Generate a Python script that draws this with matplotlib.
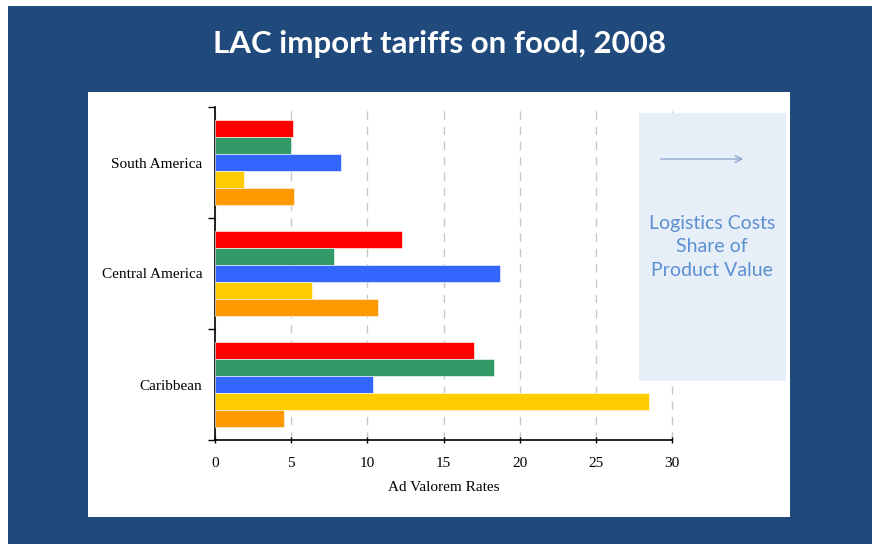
import numpy as np
import matplotlib
matplotlib.use('Agg')
import matplotlib.pyplot as plt
from matplotlib.patches import Rectangle, FancyArrowPatch

# Datos
regions = ['South America', 'Central America', 'Caribbean']
series_red = [5.1, 12.3, 17.0]
series_green = [5.0, 7.8, 18.3]
series_blue = [8.3, 18.7, 10.4]
series_yellow = [1.9, 6.4, 28.5]
series_orange = [5.2, 10.7, 4.5]
xticks = [0, 5, 10, 15, 20, 25, 30]

colors = ['#FF0000', '#339966', '#3366FF', '#FFCC00', '#FF9900']
series = [series_red, series_green, series_blue, series_yellow, series_orange]

W, H = 872, 544
fig = plt.figure(figsize=(W / 100, H / 100), dpi=100, facecolor='white')

# Fondo azul y panel blanco
fig.add_artist(Rectangle((8 / W, 0), 1 - 8 / W, 1 - 6 / H, transform=fig.transFigure,
                         facecolor='#214A7C', edgecolor='none', zorder=-3))
fig.add_artist(Rectangle((88 / W, 1 - 517 / H), (790 - 88) / W, (517 - 92) / H,
                         transform=fig.transFigure, facecolor='white', edgecolor='none', zorder=-2))

fig.text(440 / W, 1 - 44 / H, 'LAC import tariffs on food, 2008', color='white',
         fontsize=22.5, fontweight='bold', family='Lato', ha='center', va='center')

ax = fig.add_axes([215 / W, 1 - 440 / H, (672 - 215) / W, (440 - 107) / H])
ax.set_facecolor('none')

bar_h = 0.152
y = np.arange(len(regions))
for i, (vals, c) in enumerate(zip(series, colors)):
    offs = (i - 2) * bar_h
    ax.barh(y + offs, vals, height=bar_h, color=c, edgecolor='white', linewidth=0.4, zorder=3)

ax.set_ylim(2.5, -0.5)
ax.set_xlim(0, 30)
ax.set_xticks(xticks)
ax.set_xticklabels([str(t) for t in xticks], family='Liberation Serif', fontsize=11)
ax.set_yticks(y)
ax.set_yticklabels(regions, family='Liberation Serif', fontsize=11)
ax.tick_params(axis='y', length=0, pad=9)
ax.set_yticks([-0.5, 0.5, 1.5, 2.5], minor=True)
ax.tick_params(axis='y', which='minor', length=5, direction='out', width=1)
ax.tick_params(axis='x', length=4, direction='inout', width=1, pad=10)
ax.set_xlabel('Ad Valorem Rates', family='Liberation Serif', fontsize=11, labelpad=8)

for s in ['top', 'right']:
    ax.spines[s].set_visible(False)
ax.spines['left'].set_linewidth(1.2)
ax.spines['bottom'].set_linewidth(1.2)

ax.grid(axis='x', linestyle=(0, (6, 5)), color='#C8C8C8', linewidth=1, zorder=0)
ax.set_axisbelow(True)
for gl in ax.get_xgridlines():
    gl.set_clip_on(False)

# Recuadro de costes logísticos
fig.add_artist(Rectangle((639 / W, 1 - 381 / H), (786 - 639) / W, (381 - 113) / H,
                         transform=fig.transFigure, facecolor='#E6EEF7', edgecolor='none', zorder=2))
fig.add_artist(FancyArrowPatch((658 / W, 1 - 159 / H), (746 / W, 1 - 159 / H),
                               transform=fig.transFigure, arrowstyle='->', mutation_scale=12,
                               color='#8FA9CF', linewidth=1, zorder=3))
fig.text(712 / W, 1 - 247 / H, 'Logistics Costs\nShare of\nProduct Value', color='#5B8FD0',
         fontsize=14, family='Lato', ha='center', va='center', linespacing=1.45, zorder=4)

plt.savefig('out.png', dpi=100)
